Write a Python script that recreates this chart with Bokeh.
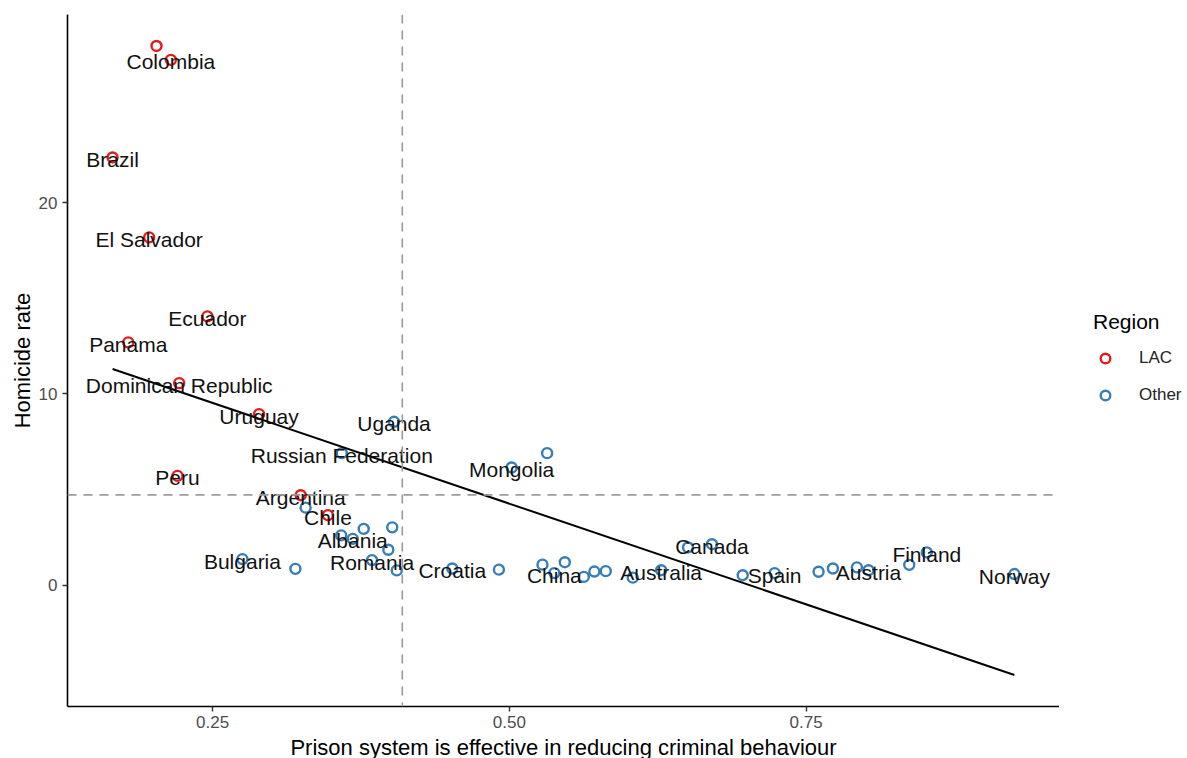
from bokeh.plotting import figure
from bokeh.layouts import row
from bokeh.models import ColumnDataSource, Range1d, FixedTicker, Legend, LegendItem, Span
from bokeh.embed import file_html
from bokeh.resources import INLINE
from bokeh.core.properties import value

# ---- data ----
countries = ["", "Colombia", "Brazil", "El Salvador", "Ecuador", "Panama", "Dominican Republic",
             "Uruguay", "Peru", "Argentina", "Chile",
             "Uganda", "Russian Federation", "", "Mongolia", "", "", "Albania", "", "", "",
             "Bulgaria", "", "Romania", "", "Croatia", "", "", "China", "", "", "", "", "",
             "Australia", "", "Canada", "", "Spain", "", "", "", "Austria", "", "Finland", "Norway"]
effectiveness = [0.2027, 0.2148, 0.1657, 0.1965, 0.2456, 0.1789, 0.2218,
                 0.2891, 0.2204, 0.3242, 0.3471,
                 0.4028, 0.3588, 0.3283, 0.5019, 0.5318, 0.3583, 0.3680, 0.3773, 0.4013, 0.3980,
                 0.2751, 0.3197, 0.3843, 0.4051, 0.4519, 0.4912, 0.5279, 0.5379, 0.5467, 0.5627,
                 0.5716, 0.5812, 0.6040,
                 0.6279, 0.6505, 0.6707, 0.6966, 0.7235, 0.7605, 0.7726, 0.7928, 0.8026, 0.8369,
                 0.8517, 0.9255]
homicide = [28.19, 27.46, 22.36, 18.18, 14.05, 12.69, 10.56,
            8.94, 5.71, 4.70, 3.66,
            8.54, 6.90, 4.05, 6.15, 6.90, 2.60, 2.42, 2.94, 3.02, 1.85,
            1.36, 0.85, 1.31, 0.77, 0.87, 0.81, 1.07, 0.63, 1.20, 0.43,
            0.71, 0.73, 0.39,
            0.78, 1.97, 2.14, 0.52, 0.63, 0.70, 0.87, 0.93, 0.78, 1.06,
            1.71, 0.58]
region = ["LAC"] * 11 + ["Other"] * 35

regions = ["LAC", "Other"]
region_colors = ["#E41A1C", "#377EB8"]

fit_intercept = 14.79
fit_slope = -21.06
ref_x = 0.4098
ref_y = 4.72

x_ticks = [0.25, 0.50, 0.75]
x_tick_labels = ["0.25", "0.50", "0.75"]
y_ticks = [0, 10, 20]
y_tick_labels = ["0", "10", "20"]

FONT = "Liberation Sans"
FRAME_W, FRAME_H = 992, 692
TOP, BOTTOM, LEFT = 14, 50, 67
FIG_H = TOP + FRAME_H + BOTTOM
LEG_W = 127

# ---- ranges (ggplot-style 5% expansion over data and fit line) ----
fit_x = [min(effectiveness), max(effectiveness)]
fit_y = [fit_intercept + fit_slope * v for v in fit_x]
xmin, xmax = min(effectiveness), max(effectiveness)
all_y = homicide + fit_y
ymin, ymax = min(all_y), max(all_y)
dx = (xmax - xmin) * 0.05
dy = (ymax - ymin) * 0.05

p = figure(frame_width=FRAME_W, frame_height=FRAME_H, output_backend="svg", toolbar_location=None,
           x_range=Range1d(xmin - dx, xmax + dx), y_range=Range1d(ymin - dy, ymax + dy),
           min_border_left=LEFT, min_border_top=TOP, min_border_bottom=BOTTOM, min_border_right=0,
           background_fill_color="white", border_fill_color="white")
p.outline_line_color = None
p.xgrid.visible = False
p.ygrid.visible = False

# reference lines
p.add_layout(Span(location=ref_x, dimension="height", line_color="#9a9a9a",
                  line_dash="9 7", line_width=1.6))
p.add_layout(Span(location=ref_y, dimension="width", line_color="#9a9a9a",
                  line_dash="9 7", line_width=1.6))

# points
sources = []
for reg, col in zip(regions, region_colors):
    idx = [i for i, r in enumerate(region) if r == reg]
    src = ColumnDataSource(dict(x=[effectiveness[i] for i in idx], y=[homicide[i] for i in idx]))
    sources.append(src)
    p.scatter("x", "y", source=src, size=10, marker="circle", fill_color=None,
              line_color=col, line_width=2.4)

# fit line
p.line(fit_x, fit_y, line_color="black", line_width=2)

# labels
lab_idx = [i for i, c in enumerate(countries) if c]
lab_src = ColumnDataSource(dict(x=[effectiveness[i] for i in lab_idx],
                                y=[homicide[i] for i in lab_idx],
                                t=[countries[i] for i in lab_idx]))
p.text("x", "y", text="t", source=lab_src, text_align="center", text_baseline="middle",
       text_font=value(FONT), text_font_size="21px", text_color="#111111", y_offset=2)

# axes
for ax in (p.xaxis[0], p.yaxis[0]):
    ax.axis_line_color = "black"
    ax.axis_line_width = 1.6
    ax.major_tick_line_color = "#333333"
    ax.major_tick_line_width = 1.4
    ax.major_tick_out = 5
    ax.major_tick_in = 0
    ax.minor_tick_out = 0
    ax.minor_tick_in = 0
    ax.major_label_text_font = FONT
    ax.major_label_text_font_size = "17px"
    ax.major_label_text_color = "#4D4D4D"
    ax.axis_label_text_font = FONT
    ax.axis_label_text_font_size = "22px"
    ax.axis_label_text_font_style = "normal"
    ax.axis_label_text_color = "black"

p.xaxis[0].ticker = FixedTicker(ticks=x_ticks)
p.xaxis[0].major_label_overrides = dict(zip(x_ticks, x_tick_labels))
p.yaxis[0].ticker = FixedTicker(ticks=y_ticks)
p.yaxis[0].major_label_overrides = dict(zip(y_ticks, y_tick_labels))
p.xaxis[0].axis_label = "Prison system is effective in reducing criminal behaviour"
p.yaxis[0].axis_label = "Homicide rate"
p.xaxis[0].major_label_standoff = 4
p.xaxis[0].axis_label_standoff = 4
p.yaxis[0].major_label_standoff = 5
p.yaxis[0].axis_label_standoff = 1

# ---- legend panel (separate figure to the right of the plot) ----
# Its key renderers reuse the region sources; its ranges keep those marks out of view.
lg = figure(width=LEG_W, height=FIG_H, output_backend="svg", toolbar_location=None,
            x_range=Range1d(-2, -1), y_range=Range1d(-200, -100),
            min_border_left=0, min_border_right=0, min_border_top=0, min_border_bottom=0,
            background_fill_color="white", border_fill_color="white")
lg.outline_line_color = None
lg.xaxis.visible = False
lg.yaxis.visible = False
lg.xgrid.visible = False
lg.ygrid.visible = False
key_renderers = []
for src, col in zip(sources, region_colors):
    key_renderers.append(lg.scatter("x", "y", source=src, size=10, marker="circle",
                                    fill_color=None, line_color=col, line_width=2.4))
legend = Legend(items=[LegendItem(label=reg, renderers=[r]) for reg, r in zip(regions, key_renderers)],
                title="Region", location=(34, FIG_H - 463), orientation="vertical")
legend.title_text_font = FONT
legend.title_text_font_size = "21px"
legend.title_text_font_style = "normal"
legend.title_text_color = "black"
legend.label_text_font = FONT
legend.label_text_font_size = "17px"
legend.label_text_color = "#222222"
legend.border_line_color = None
legend.background_fill_alpha = 0
legend.margin = 0
legend.padding = 5
legend.spacing = 13
legend.glyph_width = 24
legend.glyph_height = 24
legend.label_standoff = 22
legend.title_standoff = 12
lg.add_layout(legend)

layout = row(p, lg)
open("out.html", "w").write(file_html(layout, INLINE))
